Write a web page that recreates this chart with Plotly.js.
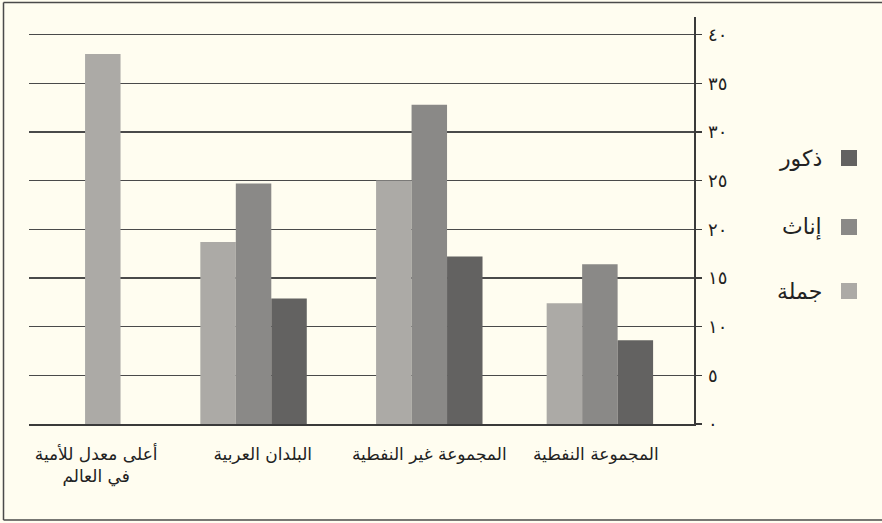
<!DOCTYPE html>
<html>
<head>
<meta charset="utf-8">
<script src="https://cdn.plot.ly/plotly-3.0.1.min.js"></script>
<style>
  html, body { margin: 0; padding: 0; background: #fffdf0; overflow: hidden; }
  #chart { width: 882px; height: 523px; }
</style>
</head>
<body>
<div id="chart"></div>
<script>
// ---- data ----
const categories = ['أعلى معدل للأمية<br>في العالم', 'البلدان العربية', 'المجموعة غير النفطية', 'المجموعة النفطية'];
const seriesNames = ['جملة', 'إناث', 'ذكور'];
const totalValues  = [38.0, 18.7, 25.0, 12.4];
const femaleValues = [null, 24.7, 32.8, 16.4];
const maleValues   = [null, 12.9, 17.2, 8.6];
const yTickValues = [0, 5, 10, 15, 20, 25, 30, 35, 40];
const yTickLabels = ['٠', '٥', '١٠', '١٥', '٢٠', '٢٥', '٣٠', '٣٥', '٤٠'];

// ---- style ----
const colors = ['#acaaa6', '#8a8987', '#636261'];
const W = 0.213;                             // bar width in category units
const groupShift = [0.04, -0.055, 0, 0.024]; // small layout nudges per group
const FONT = 'DejaVu Sans, sans-serif';
const L = 29, R = 188, T = 17, B = 99, PW = 882 - L - R, PH = 523 - T - B;
const px = v => (v - L) / PW;
const py = v => (523 - B - v) / PH;

const seriesValues = [totalValues, femaleValues, maleValues];
const traces = seriesValues.map((vals, i) => ({
  type: 'bar',
  name: seriesNames[i],
  x: categories,
  y: vals,
  width: W,
  offset: categories.map((c, k) =>
    ((i === 0 && femaleValues[k] === null && maleValues[k] === null) ? -W / 2 : (i - 1.5) * W) + groupShift[k]),
  marker: { color: colors[i], line: { width: 0 } },
  showlegend: false,
  hoverinfo: 'y'
}));

// legend built from series names / colors (square on the right of the text)
const legendOrder = [2, 1, 0];
const legendY = [158, 227, 291];
const shapes = [];
const annotations = [];
legendOrder.forEach((s, j) => {
  shapes.push({
    type: 'rect', xref: 'paper', yref: 'paper',
    x0: px(841), x1: px(857), y0: py(legendY[j] + 8), y1: py(legendY[j] - 8),
    fillcolor: colors[s], line: { width: 0 }
  });
  annotations.push({
    xref: 'paper', yref: 'paper', x: px(824), y: py(legendY[j]),
    xanchor: 'right', yanchor: 'middle', showarrow: false,
    text: seriesNames[s], font: { family: FONT, size: 22, color: '#222' }
  });
});
// page frame (top, left, bottom edges)
const frame = [[3.5, 2.5, 882, 2.5], [3.5, 2.5, 3.5, 520], [3.5, 520, 882, 520]];
frame.forEach(f => shapes.push({
  type: 'line', xref: 'paper', yref: 'paper',
  x0: px(f[0]), y0: py(f[1]), x1: px(f[2]), y1: py(f[3]),
  line: { color: '#4a4a4a', width: 1.5 }, layer: 'below'
}));

const layout = {
  width: 882, height: 523,
  margin: { l: L, r: R, t: T, b: B, pad: 0 },
  paper_bgcolor: '#fffdf0',
  plot_bgcolor: '#fffdf0',
  barmode: 'group',
  showlegend: false,
  font: { family: FONT, color: '#222' },
  xaxis: {
    type: 'category',
    range: [-0.403, 3.589],
    showgrid: false,
    showline: true, linecolor: '#3a3a3a', linewidth: 1.5,
    ticks: '', ticklen: 0,
    ticklabelstandoff: 14,
    tickfont: { family: FONT, size: 17, color: '#222' },
    automargin: false
  },
  yaxis: {
    side: 'right',
    range: [0, 41.8],
    tickvals: yTickValues,
    ticktext: yTickLabels,
    showgrid: true, gridcolor: '#4a4a4a', gridwidth: 1.3,
    showline: true, linecolor: '#3a3a3a', linewidth: 1.5,
    ticks: 'outside', ticklen: 6, tickcolor: '#3a3a3a', tickwidth: 1.3,
    ticklabelstandoff: 3,
    tickfont: { family: FONT, size: 18, color: '#222' },
    zeroline: false,
    automargin: false
  },
  shapes: shapes,
  annotations: annotations
};

Plotly.newPlot('chart', traces, layout, { staticPlot: true });
</script>
</body>
</html>
